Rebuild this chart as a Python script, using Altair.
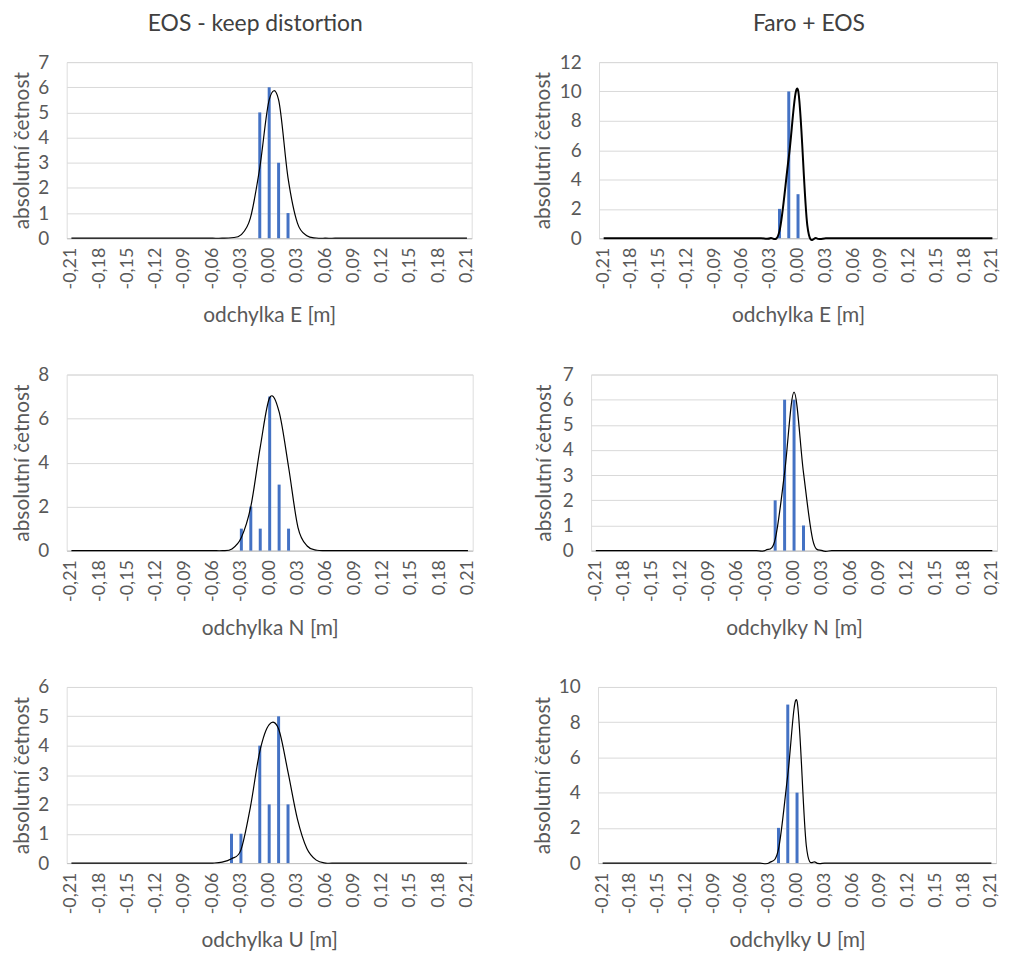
import altair as alt
import pandas as pd
import json

CATS = ["-0,21", "-0,20", "-0,19", "-0,18", "-0,17", "-0,16", "-0,15", "-0,14", "-0,13", "-0,12",
        "-0,11", "-0,10", "-0,09", "-0,08", "-0,07", "-0,06", "-0,05", "-0,04", "-0,03", "-0,02",
        "-0,01", "0,00", "0,01", "0,02", "0,03", "0,04", "0,05", "0,06", "0,07", "0,08",
        "0,09", "0,10", "0,11", "0,12", "0,13", "0,14", "0,15", "0,16", "0,17", "0,18",
        "0,19", "0,20", "0,21"]
TICK_LABELS = ["-0,21", "-0,18", "-0,15", "-0,12", "-0,09", "-0,06", "-0,03", "0,00",
               "0,03", "0,06", "0,09", "0,12", "0,15", "0,18", "0,21"]

Z17 = [0] * 17  # -0,21 .. -0,05

# EOS - keep distortion, E
E1_BARS = Z17 + [0, 0, 0, 5, 6, 3, 1, 0, 0, 0] + [0] * 16
E1_CURVE = Z17 + [0.02, 0.13, 0.8, 2.8, 5.5, 5.5, 2.4, 0.6, 0.1, 0.01] + [0] * 16
# Faro + EOS, E
E2_BARS = Z17 + [0, 0, 2, 10, 3, 0, 0, 0, 0, 0] + [0] * 16
E2_CURVE = Z17 + [0, 0, 0.5, 5.5, 10.1, 0.9, 0, 0, 0, 0] + [0] * 16
# EOS - keep distortion, N
N1_BARS = Z17 + [0, 1, 2, 1, 7, 3, 1, 0, 0, 0] + [0] * 16
N1_CURVE = Z17 + [0.08, 0.6, 2.0, 4.7, 6.95, 6.3, 3.8, 1.05, 0.2, 0.02] + [0] * 16
# Faro + EOS, N
N2_BARS = Z17 + [0, 0, 2, 6, 6, 1, 0, 0, 0, 0] + [0] * 16
N2_CURVE = Z17 + [0, 0.02, 0.45, 3.1, 6.3, 3.1, 0.4, 0, 0, 0] + [0] * 16
# EOS - keep distortion, U
U1_BARS = [0] * 16 + [0, 1, 1, 0, 4, 2, 5, 2, 0, 0, 0] + [0] * 16
U1_CURVE = [0] * 16 + [0.03, 0.15, 0.45, 1.9, 3.8, 4.72, 4.57, 3.1, 1.5, 0.5, 0.1] + [0] * 16
# Faro + EOS, U
U2_BARS = Z17 + [0, 0, 2, 9, 4, 0, 0, 0, 0, 0] + [0] * 16
U2_CURVE = Z17 + [0, 0.02, 0.8, 5.0, 9.2, 1.0, 0.05, 0, 0, 0] + [0] * 16

TEXT = "#595959"
GRID = "#d9d9d9"
FONT = "Lato"

LABEL_EXPR = "indexof(" + json.dumps(TICK_LABELS) + ", datum.value) >= 0 ? datum.value : ''"


def panel(bars, curve, xtitle, ymax, ystep, width, yext, title=None, title_dx=0, lw=1.2):
    df = pd.DataFrame({"x": CATS, "count": bars, "curve": curve})
    xscale = alt.Scale(domain=CATS, paddingInner=0, paddingOuter=0)
    xaxis = alt.Axis(labelExpr=LABEL_EXPR, labelAngle=270, title=xtitle, ticks=False,
                     domain=True, domainColor="#bfbfbf", grid=False, labelPadding=9,
                     titlePadding=16, labelFontSize=18, titleFontSize=21,
                     labelOverlap=False, labelBound=False, labelFlush=False,
                     labelColor=TEXT, titleColor=TEXT, labelFont=FONT, titleFont=FONT,
                     labelFontWeight="normal", titleFontWeight="normal")
    yscale = alt.Scale(domain=[0, ymax], nice=False)
    yaxis = alt.Axis(values=list(range(0, ymax + 1, ystep)), title="absolutní četnost",
                     ticks=False, domain=False, grid=True, gridColor=GRID, labelPadding=18,
                     minExtent=yext, maxExtent=yext, titlePadding=6, labelFontSize=19,
                     titleFontSize=21, labelColor=TEXT, titleColor=TEXT, labelFont=FONT,
                     titleFont=FONT, labelFontWeight="normal", titleFontWeight="normal")
    base = alt.Chart(df)
    b = base.mark_bar(size=3, color="#4472C4").encode(
        x=alt.X("x:N", sort=CATS, scale=xscale, axis=xaxis),
        y=alt.Y("count:Q", scale=yscale, axis=yaxis),
    )
    l = base.mark_line(color="black", strokeWidth=lw, interpolate="cardinal", tension=0).encode(
        x=alt.X("x:N", sort=CATS, scale=xscale, axis=xaxis),
        y=alt.Y("curve:Q", scale=yscale, axis=yaxis),
    )
    props = dict(width=width, height=177)
    if title:
        props["title"] = alt.TitleParams(title, fontSize=23, font=FONT, fontWeight="normal",
                                         color="#404040", dx=title_dx, offset=17, anchor="middle")
    return alt.layer(b, l).properties(**props)


p1 = panel(E1_BARS, E1_CURVE, "odchylka E [m]", 7, 1, 407, 28, "EOS - keep distortion", -14)
p2 = panel(E2_BARS, E2_CURVE, "odchylka E [m]", 12, 2, 400, 40, "Faro + EOS", 11, lw=2)
p3 = panel(N1_BARS, N1_CURVE, "odchylka N [m]", 8, 2, 408, 28)
p4 = panel(N2_BARS, N2_CURVE, "odchylky N [m]", 7, 1, 408, 31)
p5 = panel(U1_BARS, U1_CURVE, "odchylka U [m]", 6, 1, 407, 28)
p6 = panel(U2_BARS, U2_CURVE, "odchylky U [m]", 10, 2, 400, 39)

row1 = alt.hconcat(p1, p2, spacing=55)
row2 = alt.hconcat(p3, p4, spacing=55)
row3 = alt.hconcat(p5, p6, spacing=55)

chart = alt.vconcat(row1, row2, row3, spacing=38).properties(
    padding={"left": 3, "top": 2, "right": 0, "bottom": 0}
).configure_view(stroke=None).configure(font=FONT)

chart.save("out.html", embed_options={"renderer": "svg", "actions": False})
